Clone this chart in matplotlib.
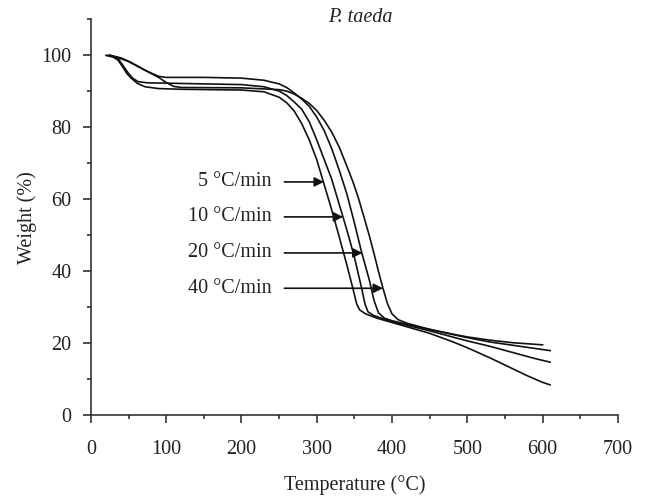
import matplotlib
matplotlib.use("Agg")
import matplotlib.pyplot as plt
from matplotlib.ticker import MultipleLocator

# ---- data ----
series_labels = ["5 °C/min", "10 °C/min", "20 °C/min", "40 °C/min"]

temp_5 = [22, 30, 36, 42, 48, 54, 62, 72, 90, 120, 200, 230, 250, 260, 270, 280, 290, 300, 310,
          320, 330, 340, 348, 353, 357, 365, 380, 400, 430, 450, 480, 500, 530, 560, 580, 600, 610]
weight_5 = [99.9, 99.4, 98.6, 96.8, 94.8, 93.5, 92.1, 91.2, 90.7, 90.5, 90.3, 89.8, 88.3, 86.8, 84.5,
            81.0, 76.5, 71.0, 64.0, 57.0, 49.5, 41.8, 35.3, 31.0, 29.3, 28.2, 27.0, 25.8, 24.0, 22.8,
            20.5, 18.8, 16.0, 13.0, 11.0, 9.2, 8.5]

temp_10 = [24, 30, 36, 43, 50, 56, 63, 75, 100, 150, 200, 230, 250, 260, 270, 280, 290, 300, 310,
           320, 330, 340, 350, 360, 364, 368, 375, 400, 430, 450, 480, 500, 530, 560, 590, 610]
weight_10 = [99.9, 99.6, 99.1, 97.0, 94.9, 93.5, 92.6, 92.3, 92.2, 92.0, 91.8, 91.2, 90.0, 88.8, 87.0,
             85.0, 81.5, 76.5, 71.0, 65.5, 58.5, 51.5, 44.0, 35.0, 31.0, 28.8, 27.8, 26.0, 24.5, 23.5,
             21.8, 20.7, 19.2, 17.5, 15.8, 14.8]

temp_20 = [20, 30, 40, 50, 60, 70, 80, 90, 100, 150, 200, 230, 250, 260, 270, 280, 290, 300, 310,
           320, 330, 340, 350, 360, 370, 376, 382, 390, 400, 430, 450, 480, 500, 530, 560, 590, 610]
weight_20 = [99.9, 99.5, 99.0, 98.2, 97.1, 96.0, 95.0, 94.1, 93.8, 93.8, 93.6, 93.0, 92.0, 91.0, 89.5,
             87.8, 85.8, 82.8, 79.0, 74.0, 68.0, 61.5, 53.5, 45.0, 37.5, 32.0, 28.5, 27.0, 26.3, 24.8,
             23.9, 22.5, 21.6, 20.4, 19.5, 18.6, 18.0]

temp_40 = [25, 40, 50, 60, 70, 80, 90, 100, 110, 120, 200, 250, 260, 270, 280, 290, 300, 310, 320,
           330, 340, 348, 355, 362, 370, 376, 382, 388, 394, 400, 408, 420, 450, 480, 500, 530, 560, 580, 600]
weight_40 = [100.0, 99.2, 98.3, 97.2, 96.0, 94.9, 93.8, 92.4, 91.3, 91.0, 90.9, 90.4, 90.0, 89.2, 88.0,
             86.6, 84.6, 81.9, 78.6, 74.4, 69.2, 64.9, 60.6, 55.6, 49.8, 45.0, 40.0, 35.3, 31.0, 28.2,
             26.6, 25.6, 23.9, 22.6, 21.8, 20.9, 20.2, 19.9, 19.6]

temps = [temp_5, temp_10, temp_20, temp_40]
weights = [weight_5, weight_10, weight_20, weight_40]

# annotation layout (label text x, arrow tail x, arrow tip x, y)
label_x = 240
arrow_tail_x = 257
arrow_tips = [(309.5, 64.8), (335, 55.1), (360.8, 45.1), (388, 35.3)]

# ---- plotting ----
plt.rcParams['font.family'] = ['Liberation Serif', 'DejaVu Serif']
plt.rcParams['mathtext.fontset'] = 'stix'

fig = plt.figure(figsize=(6.49, 4.96), dpi=100)
ax = fig.add_axes([0.140, 0.1623, 0.812, 0.7994])

for t, w in zip(temps, weights):
    ax.plot(t, w, color='#111111', lw=1.2, solid_joinstyle='round')

for lab, (tx, ty) in zip(series_labels, arrow_tips):
    ax.text(label_x, ty, lab, ha='right', va='center', fontsize=14.5, color='#222222')
    ax.annotate('', xy=(tx, ty), xytext=(arrow_tail_x, ty),
                arrowprops=dict(arrowstyle='-|>', color='#111111', lw=1.2,
                                mutation_scale=14, shrinkA=0, shrinkB=0))

ax.set_xlim(0, 700)
ax.set_ylim(0, 110)
ax.xaxis.set_major_locator(MultipleLocator(100))
ax.xaxis.set_minor_locator(MultipleLocator(50))
ax.yaxis.set_major_locator(MultipleLocator(20))
ax.yaxis.set_minor_locator(MultipleLocator(10))
ax.set_yticks([0, 20, 40, 60, 80, 100])

for s in ['top', 'right']:
    ax.spines[s].set_visible(False)
for s in ['left', 'bottom']:
    ax.spines[s].set_color('#333333')
    ax.spines[s].set_linewidth(1.2)

ax.tick_params(axis='both', which='major', direction='out', length=6, width=1.2,
               colors='#333333', labelcolor='#222222', labelsize=14.5)
ax.tick_params(axis='both', which='minor', direction='out', length=3, width=1.2, colors='#333333')
ax.tick_params(axis='x', which='major', pad=12)
ax.tick_params(axis='y', which='major', pad=8)

ax.set_xlabel('Temperature (°C)', fontsize=14.5, color='#222222', labelpad=11)
ax.set_ylabel('Weight (%)', fontsize=14.5, color='#222222', labelpad=3)

fig.text(360 / 649, 1 - 17 / 496, 'P. taeda', ha='center', va='center', fontsize=14.5,
         style='italic', color='#222222')

fig.savefig('out.png', dpi=100)
